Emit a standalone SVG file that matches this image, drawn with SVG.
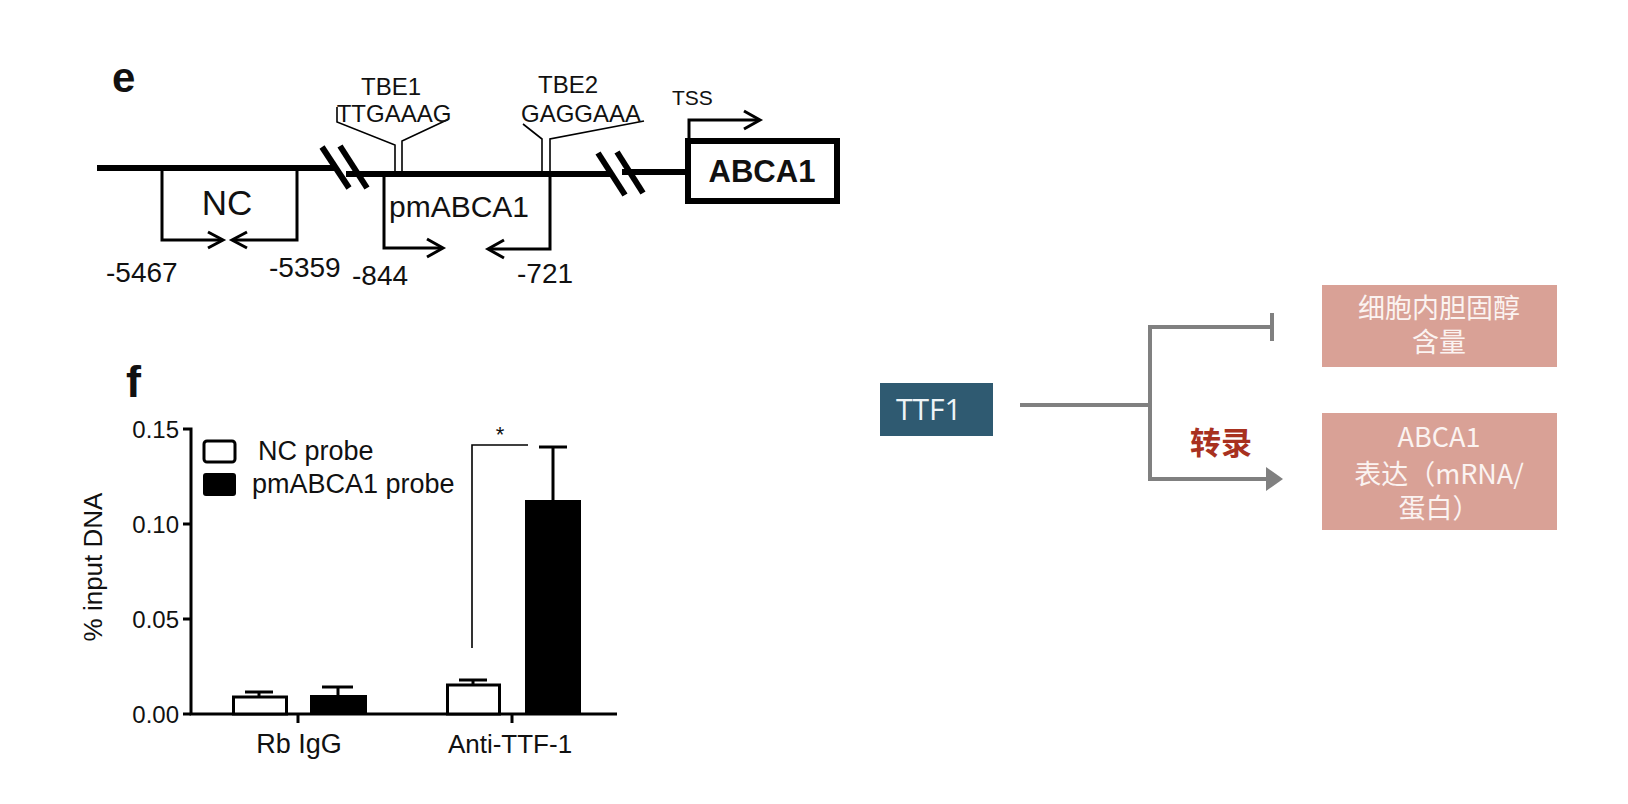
<svg xmlns="http://www.w3.org/2000/svg" width="1628" height="804" viewBox="0 0 1628 804">
<style>
.t{font-family:"Liberation Sans",Arial,sans-serif;fill:#111}
.cjk{font-family:"Noto Sans CJK SC",sans-serif}
.dna{stroke:#000;stroke-width:6;fill:none}
.pr{stroke:#000;stroke-width:3;fill:none;stroke-linejoin:miter}
.thin{stroke:#000;stroke-width:1.6;fill:none}
.ax{stroke:#000;stroke-width:3;fill:none}
.gc{stroke:#808080;stroke-width:4;fill:none}
</style>
<rect width="1628" height="804" fill="#fff"/>

<!-- Panel e -->
<g id="panel-e">
<text class="t" x="112" y="92" font-size="42" font-weight="bold">e</text>
<g id="dna-line">
<line class="dna" x1="97" y1="168" x2="336" y2="168"/>
<line class="dna" x1="346" y1="174" x2="612" y2="174"/>
<line class="dna" x1="622" y1="172" x2="688" y2="172"/>
<line class="dna" stroke-width="5" x1="322" y1="147" x2="349" y2="188"/>
<line class="dna" stroke-width="5" x1="340" y1="146" x2="367" y2="188"/>
<line class="dna" stroke-width="5" x1="598" y1="153" x2="625" y2="195"/>
<line class="dna" stroke-width="5" x1="617" y1="152" x2="643" y2="193"/>
</g>
<g id="tbe1">
<polyline class="thin" points="337,107 337,122 395,145 395,172"/>
<polyline class="thin" points="449,119 402,141 402,172"/>
<text class="t" x="391" y="95" font-size="24" text-anchor="middle">TBE1</text>
<text class="t" x="394" y="122" font-size="24" text-anchor="middle">TTGAAAG</text>
</g>
<g id="tbe2">
<polyline class="thin" points="523,124 542,139 542,174"/>
<polyline class="thin" points="644,121 550,139 550,174"/>
<text class="t" x="568" y="93" font-size="24" text-anchor="middle">TBE2</text>
<text class="t" x="581" y="122" font-size="24" text-anchor="middle">GAGGAAA</text>
</g>
<g id="nc-probe">
<polyline class="pr" points="162,168 162,240 222,240"/>
<polyline class="pr" points="208,232 223,240 208,248"/>
<polyline class="pr" points="297,168 297,240 233,240"/>
<polyline class="pr" points="247,232 232,240 247,248"/>
<text class="t" x="227" y="215" font-size="35" text-anchor="middle">NC</text>
<text class="t" x="106" y="282" font-size="28">-5467</text>
<text class="t" x="269" y="277" font-size="28">-5359</text>
<text class="t" x="352" y="285" font-size="28">-844</text>
</g>
<g id="pm-probe">
<polyline class="pr" points="384,174 384,248 442,248"/>
<polyline class="pr" points="427,239 443,248 427,257"/>
<polyline class="pr" points="550,174 550,249 489,249"/>
<polyline class="pr" points="504,240 488,249 504,258"/>
<text class="t" x="389" y="217" font-size="30">pmABCA1</text>
<text class="t" x="517" y="283" font-size="28">-721</text>
</g>
<g id="abca1-gene">
<rect x="688" y="141" width="149" height="60" fill="#fff" stroke="#000" stroke-width="6"/>
<text class="t" x="762" y="182" font-size="31" font-weight="bold" text-anchor="middle">ABCA1</text>
<polyline class="pr" stroke-width="4" points="689,140 689,120 758,120"/>
<polyline class="pr" stroke-width="4" points="744,111 760,120 744,129"/>
<text class="t" x="672" y="105" font-size="21">TSS</text>
</g>
</g>

<!-- Panel f -->
<g id="panel-f">
<text class="t" x="126" y="397" font-size="45" font-weight="bold">f</text>
<g id="axes">
<polyline class="ax" points="183,429 191,429 191,714 617,714"/>
<line class="ax" x1="183" y1="524" x2="191" y2="524"/>
<line class="ax" x1="183" y1="619" x2="191" y2="619"/>
<line class="ax" x1="183" y1="714" x2="191" y2="714"/>
<line class="ax" x1="298" y1="714" x2="298" y2="723"/>
<line class="ax" x1="512" y1="714" x2="512" y2="723"/>
<text class="t" x="179" y="438" font-size="24" text-anchor="end">0.15</text>
<text class="t" x="179" y="533" font-size="24" text-anchor="end">0.10</text>
<text class="t" x="179" y="628" font-size="24" text-anchor="end">0.05</text>
<text class="t" x="179" y="723" font-size="24" text-anchor="end">0.00</text>
<text class="t" font-size="26" text-anchor="middle" transform="translate(102,567) rotate(-90)">% input DNA</text>
<text class="t" x="299" y="753" font-size="27" text-anchor="middle">Rb IgG</text>
<text class="t" x="510" y="753" font-size="26" text-anchor="middle">Anti-TTF-1</text>
</g>
<g id="legend">
<rect x="204" y="441" width="31" height="21" rx="3" fill="#fff" stroke="#000" stroke-width="3"/>
<rect x="203" y="473" width="33" height="23" rx="3" fill="#000"/>
<text class="t" x="258" y="460" font-size="27">NC probe</text>
<text class="t" x="252" y="493" font-size="27">pmABCA1 probe</text>
</g>
<g id="bars">
<line class="ax" x1="259" y1="697" x2="259" y2="692"/>
<line class="ax" x1="245" y1="692" x2="273" y2="692"/>
<rect x="233.5" y="697" width="53" height="17" fill="#fff" stroke="#000" stroke-width="3"/>
<line class="ax" x1="338" y1="695" x2="338" y2="687"/>
<line class="ax" x1="322" y1="687" x2="353" y2="687"/>
<rect x="310" y="695" width="57" height="19" fill="#000"/>
<line class="ax" x1="473" y1="685" x2="473" y2="680"/>
<line class="ax" x1="459" y1="680" x2="487" y2="680"/>
<rect x="447.5" y="685" width="52" height="29" fill="#fff" stroke="#000" stroke-width="3"/>
<line class="ax" x1="553" y1="500" x2="553" y2="447"/>
<line class="ax" x1="539" y1="447" x2="567" y2="447"/>
<rect x="525" y="500" width="56" height="214" fill="#000"/>
</g>
<g id="significance">
<polyline class="thin" points="472,648 472,445 528,445"/>
<text class="t" x="500" y="442" font-size="22" text-anchor="middle">*</text>
</g>
</g>

<!-- Right schematic -->
<g id="node-ttf1">
<rect x="880" y="383" width="113" height="53" fill="#2f5a71"/>
<text x="896" y="420" font-family="'Open Sans','Noto Sans',sans-serif" font-size="30" fill="#eef4f7">TTF1</text>
</g>
<g id="node-cholesterol">
<rect x="1322" y="285" width="235" height="82" fill="#d9a196"/>
<text class="cjk" font-size="27" fill="#fbf3f1" text-anchor="middle"><tspan x="1439" y="318">细胞内胆固醇</tspan><tspan x="1439" y="352">含量</tspan></text>
</g>
<g id="node-abca1-expr">
<rect x="1322" y="413" width="235" height="117" fill="#d9a196"/>
<text class="cjk" font-size="27" fill="#fbf3f1" text-anchor="middle"><tspan x="1439" y="447">ABCA1</tspan><tspan x="1439" y="484">表达（mRNA/</tspan><tspan x="1439" y="518">蛋白）</tspan></text>
</g>
<g id="connectors">
<line class="gc" x1="1020" y1="405" x2="1152" y2="405"/>
<polyline class="gc" points="1272,327 1150,327 1150,479 1268,479"/>
<line class="gc" x1="1272" y1="313" x2="1272" y2="341"/>
<path d="M1266,467 L1283,479 L1266,491 Z" fill="#808080"/>
<text class="cjk" x="1221" y="454" font-size="31" font-weight="bold" fill="#a8311f" text-anchor="middle">转录</text>
</g>
</svg>
